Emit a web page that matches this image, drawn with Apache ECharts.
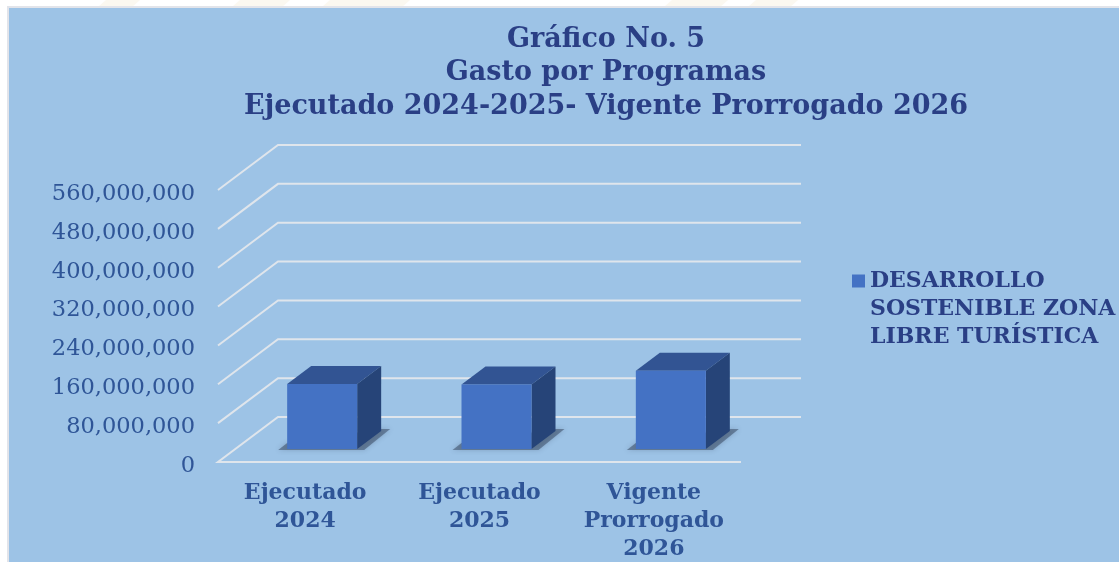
<!DOCTYPE html>
<html>
<head>
<meta charset="utf-8">
<style>html,body{margin:0;padding:0;background:#fff}#chart{width:1119px;height:562px}</style>
<script src="https://cdn.jsdelivr.net/npm/echarts@6/dist/echarts.min.js"></script>
</head>
<body>
<div id="chart"></div>
<script>
const titleLines=['Gráfico No. 5','Gasto por Programas','Ejecutado 2024-2025- Vigente Prorrogado 2026'];
const categories=['Ejecutado\n2024','Ejecutado\n2025','Vigente\nProrrogado\n2026'];
const seriesName='DESARROLLO\nSOSTENIBLE ZONA\nLIBRE TURÍSTICA';
const gasto=[134000000,133000000,161000000];
const yTicks=[0,80000000,160000000,240000000,320000000,400000000,480000000,560000000];

const FONT='"DejaVu Serif"';
//profundidad de la pared y de las barras (falso 3D)
const WALL_DX=60,WALL_DY=-45;
const BAR_W=70,BAR_DX=24,BAR_DY=-18,FLOOR_DX=17,FLOOR_DY=-13;

function renderWall(params,api){
  const rect=params.coordSys;
  const y=api.coord([0,api.value(1)])[1];
  const x0=rect.x,x1=rect.x+rect.width;
  const pts=[[x0,y],[x0+WALL_DX,y+WALL_DY],[x1+WALL_DX,y+WALL_DY]];
  if(api.value(1)===0) pts.unshift([x1,y]);
  return {
    type:'polyline',
    shape:{points:pts},
    style:{fill:'none',stroke:'#dfe5ec',lineWidth:2}
  };
}

function renderBar(params,api){
  const base=api.coord([api.value(0),0]);
  const top=api.coord([api.value(0),api.value(1)]);
  const l=base[0]+FLOOR_DX-BAR_W/2,r=l+BAR_W;
  const b=base[1]+FLOOR_DY,t=top[1]+FLOOR_DY;
  return {
    type:'group',
    children:[
      //sombra en el piso
      {type:'polygon',shape:{points:[[l-9,b+1],[l,b-6],[r+BAR_DX,b+BAR_DY-2],[r+BAR_DX+9,b+BAR_DY-2],[r+7,b+1]]},
        style:{fill:'rgba(50,65,90,0.5)',shadowBlur:5,shadowColor:'rgba(50,65,90,0.5)'}},
      {type:'polygon',shape:{points:[[l,t],[l+BAR_DX,t+BAR_DY],[r+BAR_DX,t+BAR_DY],[r,t]]},style:{fill:'#325493'}},
      {type:'polygon',shape:{points:[[r,t],[r+BAR_DX,t+BAR_DY],[r+BAR_DX,b+BAR_DY],[r,b]]},style:{fill:'#264478'}},
      {type:'rect',shape:{x:l,y:t,width:BAR_W,height:b-t},style:{fill:'#4472c4'}}
    ]
  };
}

//marca de agua tenue que asoma por el borde superior
const watermark=[[98,132],[232,282],[322,402],[664,720],[748,790]].map(function(p){
  return {
    type:'polygon',
    z:-2,
    shape:{points:[[p[0],7],[p[0]+8,0],[p[1]+8,0],[p[1],7]]},
    style:{fill:'#fbf8f0'}
  };
});

const chart=echarts.init(document.getElementById('chart'));
chart.setOption({
  animation:false,
  backgroundColor:'#fff',
  color:['#4472c4'],
  title:{
    text:titleLines.join('\n'),
    left:601,
    top:18,
    textAlign:'center',
    textStyle:{fontFamily:FONT,fontWeight:'bold',fontSize:27,lineHeight:33.5,color:'#2a3f85'}
  },
  legend:{
    data:[seriesName],
    left:852,
    top:211,
    orient:'vertical',
    selectedMode:false,
    icon:'rect',
    itemWidth:13,
    itemHeight:13,
    itemGap:0,
    padding:0,
    //dos lineas vacias para que el cuadro quede a la altura de la primera linea
    formatter:function(name){
      return '\n\n'+name;
    },
    textStyle:{fontFamily:FONT,fontWeight:'bold',fontSize:22,lineHeight:28,color:'#2a3f85'}
  },
  //outerBoundsMode none: si no, v6 encoge el grid por las etiquetas de abajo
  grid:{left:218,top:190,width:523,height:272,outerBoundsMode:'none'},
  xAxis:{
    type:'category',
    data:categories,
    axisLine:{show:false},
    axisTick:{show:false},
    axisLabel:{interval:0,margin:17,fontFamily:FONT,fontWeight:'bold',fontSize:22,lineHeight:28,color:'#2f5597'}
  },
  yAxis:{
    type:'value',
    min:0,
    max:560000000,
    interval:80000000,
    axisLine:{show:false},
    axisTick:{show:false},
    splitLine:{show:false},
    axisLabel:{
      margin:23,
      fontFamily:FONT,
      fontSize:22.5,
      color:'#2f5597',
      verticalAlign:'top',
      lineHeight:8,
      formatter:function(value){
        return value.toLocaleString('en-US');
      }
    }
  },
  graphic:watermark.concat([{
    type:'rect',
    z:-1,
    shape:{x:8,y:7,width:1130,height:570},
    style:{fill:'#9dc3e6',stroke:'#e2e4ea',lineWidth:2}
  }]),
  series:[
    {
      type:'custom',
      name:'pared',
      silent:true,
      clip:false,
      z:1,
      renderItem:renderWall,
      data:yTicks.map(v=>[0,v])
    },
    {
      type:'custom',
      name:seriesName,
      clip:false,
      z:2,
      renderItem:renderBar,
      encode:{x:0,y:1},
      data:gasto.map((v,i)=>[i,v])
    }
  ]
});
</script>
</body>
</html>
